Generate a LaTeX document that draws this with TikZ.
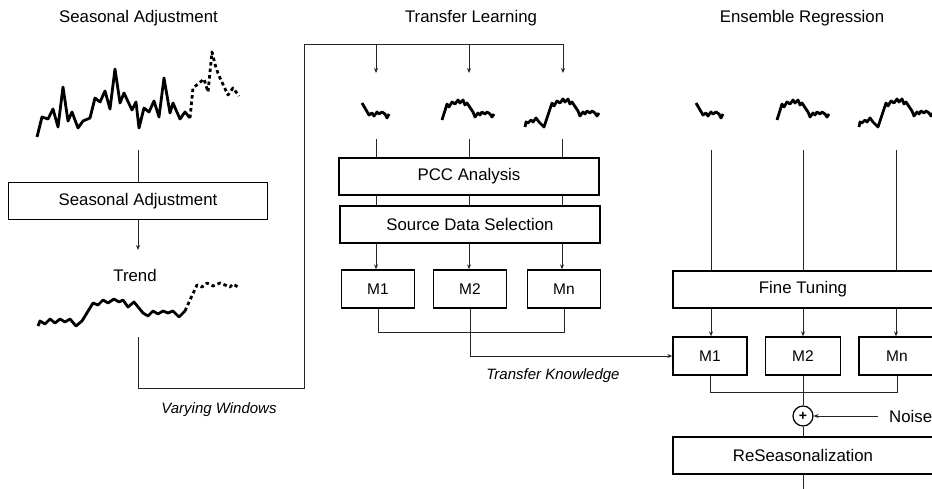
\documentclass[tikz,border=0pt]{standalone}
\usepackage{fontspec}
\setmainfont{Liberation Sans}
\usetikzlibrary{arrows.meta}
\begin{document}
\begin{tikzpicture}[x=1pt,y=-1pt,
  box/.style={draw=black, line width=1.3pt, minimum height=37pt, inner sep=0pt,
    font=\fontsize{16.8}{20}\selectfont},
  mbox/.style={box, minimum width=73pt, minimum height=38pt,
    font=\fontsize{15.5}{18}\selectfont},
  wire/.style={draw=black!85, line width=0.9pt},
  arr/.style={wire, -{Stealth[length=5pt,width=4pt]}},
  series/.style={line width=2.8pt, line join=round},
  fcast/.style={series, dash pattern=on 3.5pt off 3pt},
  title/.style={font=\fontsize{16.8}{20}\selectfont},
  note/.style={font=\fontsize{15}{18}\selectfont\itshape},
  iconA/.pic={\draw[series] (0,0) -- (7,12) -- (10,10) -- (12,13) -- (15,9) -- (17,11)
      -- (20,9) -- (23,11) -- (25,15) -- (27,11);},
  iconB/.pic={\draw[series] (0,0) -- (5,-16) -- (7,-13) -- (10,-18) -- (13,-16) -- (16,-20)
      -- (18,-17) -- (21,-20) -- (23,-15) -- (25,-17) -- (31,-8) -- (33,-3) -- (36,-7)
      -- (38,-5) -- (40,-8) -- (43,-6) -- (45,-8) -- (48,-6) -- (50,-3) -- (52,-6);},
  iconC/.pic={\draw[series] (0,0) -- (1,-5) -- (3,-4) -- (6,-7) -- (8,-5) -- (11,-9)
      -- (14,-5) -- (19,0) -- (27,-24) -- (29,-21) -- (32,-26) -- (35,-24) -- (38,-28)
      -- (40,-25) -- (43,-28) -- (45,-23) -- (47,-25) -- (53,-16) -- (55,-11) -- (58,-15)
      -- (60,-13) -- (62,-16) -- (65,-14) -- (67,-16) -- (70,-14) -- (72,-11) -- (74,-14);}
]
\clip (0,0) rectangle (932,489);

% column titles
\node[title] (tSA) at (138.5,18) {Seasonal Adjustment};
\node[title] (tTL) at (471,18) {Transfer Learning};
\node[title] (tER) at (802,18) {Ensemble Regression};

% ---------- seasonal adjustment ----------
% raw series with its forecast tail
\draw[series] (37,137) -- (42,117) -- (48,119) -- (53,109) -- (58,127) -- (63,87)
  -- (68,121) -- (72,112) -- (78,128) -- (83,121) -- (90,118) -- (95,98) -- (100,102)
  -- (105,91) -- (110,109) -- (115,69) -- (120,103) -- (124,93) -- (132,110) -- (136,102)
  -- (139,128) -- (144,108) -- (149,112) -- (154,101) -- (159,117) -- (164,78) -- (170,113)
  -- (173,103) -- (180,119) -- (185,112) -- (190,118);
\draw[fcast] (190,118) -- (193,88) -- (198,84) -- (204,79) -- (208,92) -- (212,52)
  -- (216,68) -- (220,78) -- (228,95) -- (233,88) -- (239,96);

\coordinate (rawOut) at (138,150);
\node[box, minimum width=259pt] (sa) at (138,201) {Seasonal Adjustment};
\coordinate (trendIn) at (138,250);
\draw[wire] (rawOut) -- (sa.north);
\draw[arr] (sa.south) -- (trendIn);

\node[title] (trend) at (135,275) {Trend};
% trend series with its forecast tail
\draw[series] (38,326) -- (40,321) -- (45,324) -- (50,319) -- (55,323) -- (60,319)
  -- (65,322) -- (70,319) -- (76,326) -- (82,321) -- (93,303) -- (98,305) -- (103,300)
  -- (108,303) -- (114,299) -- (119,302) -- (123,300) -- (128,307) -- (134,302)
  -- (143,313) -- (148,316) -- (153,311) -- (158,314) -- (163,311) -- (168,313)
  -- (173,311) -- (179,317) -- (185,311);
\draw[fcast] (185,311) -- (190,300) -- (197,285) -- (202,287) -- (207,283) -- (213,286)
  -- (220,283) -- (230,287) -- (233,284) -- (238,287);

% varying windows feed
\coordinate (trendOut) at (138,337);
\coordinate (vwA) at (138,388);
\coordinate (vwB) at (304,388);
\coordinate (vwC) at (304,44);
\coordinate (vwD) at (563,44);
\draw[wire] (trendOut) -- (vwA) -- (vwB) -- (vwC) -- (vwD);
\node[note] (vw) at (219,410) {Varying Windows};

% ---------- transfer learning ----------
\coordinate (w1) at (376,44);
\coordinate (w2) at (469,44);
\coordinate (w3) at (563,44);
\coordinate (w1t) at (376,73);
\coordinate (w2t) at (469,73);
\coordinate (w3t) at (563,73);
\draw[arr] (w1) -- (w1t);
\draw[arr] (w2) -- (w2t);
\draw[arr] (w3) -- (w3t);

\pic at (362,103) {iconA};
\pic at (442,120) {iconB};
\pic at (525,127) {iconC};

\node[box, minimum width=260pt] (pcc) at (469,176.5) {PCC Analysis};
\node[box, minimum width=260pt] (sds) at (470,224.5) {Source Data Selection};
\node[mbox] (m1) at (378,289) {M1};
\node[mbox] (m2) at (470,289) {M2};
\node[mbox] (mn) at (564,289) {Mn};

\coordinate (s1) at (376,139);
\coordinate (s2) at (469,139);
\coordinate (s3) at (562,139);
\foreach \s in {s1,s2,s3}{
  \draw[wire] (\s) -- (\s |- pcc.north);
  \draw[wire] (\s |- pcc.south) -- (\s |- sds.north);
  \draw[arr] (\s |- sds.south) -- (\s |- m1.north);
}
\draw[wire] (m1.south) -- ++(0,24) -| (mn.south);

% ---------- ensemble regression ----------
\pic at (696,103) {iconA};
\pic at (777,120) {iconB};
\pic at (859,127) {iconC};

\node[box, minimum width=260pt] (ft) at (803,289.5) {Fine Tuning};
\node[mbox, minimum width=74pt] (rm1) at (710,356) {M1};
\node[mbox, minimum width=75pt] (rm2) at (803,356) {M2};
\node[mbox, minimum width=76pt] (rmn) at (897,356) {Mn};

\coordinate (e1) at (711,150);
\coordinate (e2) at (803,150);
\coordinate (e3) at (896,150);
\foreach \e in {e1,e2,e3}{
  \draw[wire] (\e) -- (\e |- ft.north);
  \draw[arr] (\e |- ft.south) -- (\e |- rm1.north);
}

% learned models handed over to the ensemble
\draw[arr] (m2.south) |- (rm1.west);
\node[note] (tk) at (553,376) {Transfer Knowledge};

\draw[wire] (rm1.south) -- ++(0,17) -| (rmn.south);
\node[draw=black, circle, line width=1.2pt, minimum size=20pt, inner sep=0pt,
  font=\fontsize{14}{14}\selectfont\bfseries] (plus) at (803,416) {+};
\draw[wire] (rm2.south) -- (plus.north);
\node[title, anchor=west, inner sep=0pt] (noise) at (889,416) {Noise};
\draw[arr] ([xshift=-11pt]noise.west) -- (plus.east);

\node[box, minimum width=260pt] (rs) at (803,455.5) {ReSeasonalization};
\coordinate (outEnd) at (803,495);
\draw[wire] (plus.south) -- (rs.north);
\draw[wire] (rs.south) -- (outEnd);
\end{tikzpicture}
\end{document}
